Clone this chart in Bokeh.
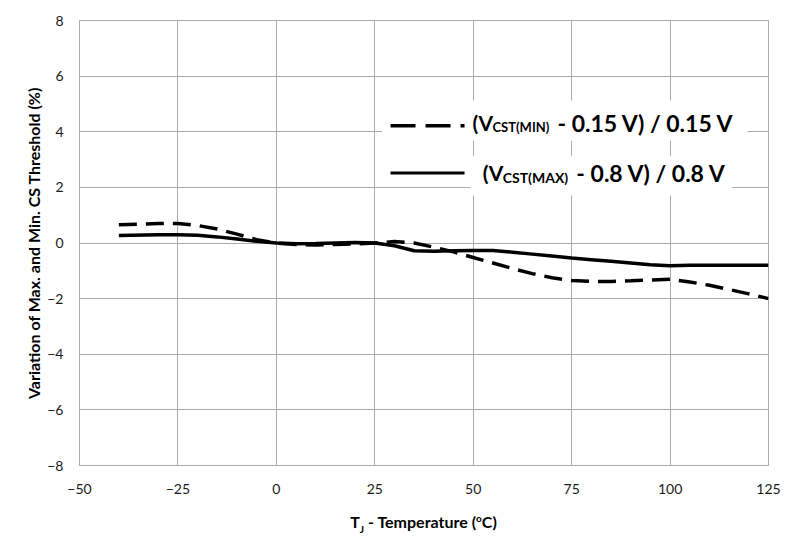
from bokeh.plotting import figure
from bokeh.models import Range1d, FixedTicker, Label, BoxAnnotation, Arrow, Div
from bokeh.layouts import column
from bokeh.embed import file_html
from bokeh.resources import INLINE

# ---- data ----
temps = [-40, -30, -25, -20, -15, -10, -5, 0, 5, 10, 15, 20, 25, 30, 35, 40,
         45, 50, 55, 60, 65, 70, 75, 80, 85, 90, 95, 100, 105, 110, 115, 120, 125]
var_min = [0.66, 0.70, 0.70, 0.63, 0.50, 0.32, 0.12, 0.00, -0.05, -0.07, -0.05, -0.03,
           0.00, 0.05, 0.00, -0.15, -0.32, -0.52, -0.72, -0.92, -1.10, -1.25, -1.35,
           -1.38, -1.38, -1.36, -1.33, -1.30, -1.40, -1.52, -1.67, -1.83, -2.00]
var_max = [0.27, 0.30, 0.30, 0.28, 0.22, 0.14, 0.06, 0.00, -0.03, -0.02, 0.00, 0.02,
           0.00, -0.10, -0.28, -0.30, -0.28, -0.27, -0.27, -0.33, -0.40, -0.47, -0.54,
           -0.60, -0.66, -0.72, -0.78, -0.82, -0.80, -0.80, -0.80, -0.80, -0.80]
x_ticks = [-50, -25, 0, 25, 50, 75, 100, 125]
y_ticks = [-8, -6, -4, -2, 0, 2, 4, 6, 8]
legend_min = ["(V", "CST(MIN)", "- 0.15 V) / 0.15 V"]
legend_max = ["(V", "CST(MAX)", "- 0.8 V) / 0.8 V"]
xlabel_html = "T<sub style='font-size:10px'>J</sub> - Temperature (<sup style='font-size:10px'>o</sup>C)"
ylabel = "Variation of Max. and Min. CS Threshold (%)"

GRID = "#ababab"
FONT = "Lato"

p = figure(width=792, height=503, output_backend="svg", toolbar_location=None,
           x_range=Range1d(-50, 125), y_range=Range1d(-8, 8),
           min_border_left=79, min_border_right=24, min_border_top=20, min_border_bottom=38)
p.background_fill_color = "white"
p.border_fill_color = "white"
p.outline_line_color = GRID
p.outline_line_width = 1

for ax in (p.xaxis[0], p.yaxis[0]):
    ax.axis_line_color = GRID
    ax.major_tick_line_color = None
    ax.minor_tick_line_color = None
    ax.major_label_text_font = FONT
    ax.major_label_text_font_size = "14px"
    ax.major_label_text_color = "#1a1a1a"
p.xaxis.ticker = FixedTicker(ticks=x_ticks)
p.yaxis.ticker = FixedTicker(ticks=y_ticks)
p.xaxis.major_label_standoff = 12
p.yaxis.major_label_standoff = 10
p.yaxis.axis_label = ylabel
p.yaxis.axis_label_text_font = FONT
p.yaxis.axis_label_text_font_style = "bold"
p.yaxis.axis_label_text_font_size = "16px"
p.yaxis.axis_label_text_color = "black"
p.yaxis.axis_label_standoff = 1

p.xgrid.ticker = FixedTicker(ticks=x_ticks)
p.ygrid.ticker = FixedTicker(ticks=y_ticks)
p.grid.grid_line_color = GRID
p.grid.grid_line_width = 1

p.line(temps, var_min, line_color="black", line_width=3.5, line_dash="18 9")
p.line(temps, var_max, line_color="black", line_width=3.5)

# ---- legend (manual, to allow subscripts) ----
p.add_layout(BoxAnnotation(left=26.8, right=119.7, bottom=3.68, top=5.12,
                           fill_color="white", fill_alpha=1.0, line_alpha=0))
p.add_layout(BoxAnnotation(left=26.8, right=49.3, bottom=2.06, top=3.07,
                           fill_color="white", fill_alpha=1.0, line_alpha=0))
p.add_layout(BoxAnnotation(left=49.3, right=115.8, bottom=1.71, top=3.14,
                           fill_color="white", fill_alpha=1.0, line_alpha=0))

p.add_layout(Arrow(start=None, end=None, x_start=29.0, y_start=4.22, x_end=47.8, y_end=4.22,
                   line_color="black", line_width=3.5, line_dash="25 10"))
p.add_layout(Arrow(start=None, end=None, x_start=29.0, y_start=2.52, x_end=47.8, y_end=2.52,
                   line_color="black", line_width=3))

def lab(x, y, t, size, style="bold"):
    p.add_layout(Label(x=x, y=y, text=t, text_font=FONT, text_font_style=style,
                       text_font_size=size, text_color="black",
                       text_align="left", text_baseline="middle"))

lab(49.8, 4.33, legend_min[0], "21px")
lab(54.9, 4.16, legend_min[1], "13px")
lab(71.4, 4.33, legend_min[2], "23px")

lab(52.4, 2.53, legend_max[0], "21px")
lab(57.5, 2.36, legend_max[1], "14px")
lab(76.2, 2.53, legend_max[2], "23px")

# ---- x axis label with sub/superscript ----
xlab = Div(text=xlabel_html, width=689, height=30, margin=(5, 0, 0, 79),
           styles={"font-family": FONT, "font-weight": "bold", "font-size": "16px",
                   "text-align": "center", "line-height": "20px", "color": "black",
                   "width": "689px"})

layout = column(p, xlab)
open("out.html", "w").write(file_html(layout, INLINE))
